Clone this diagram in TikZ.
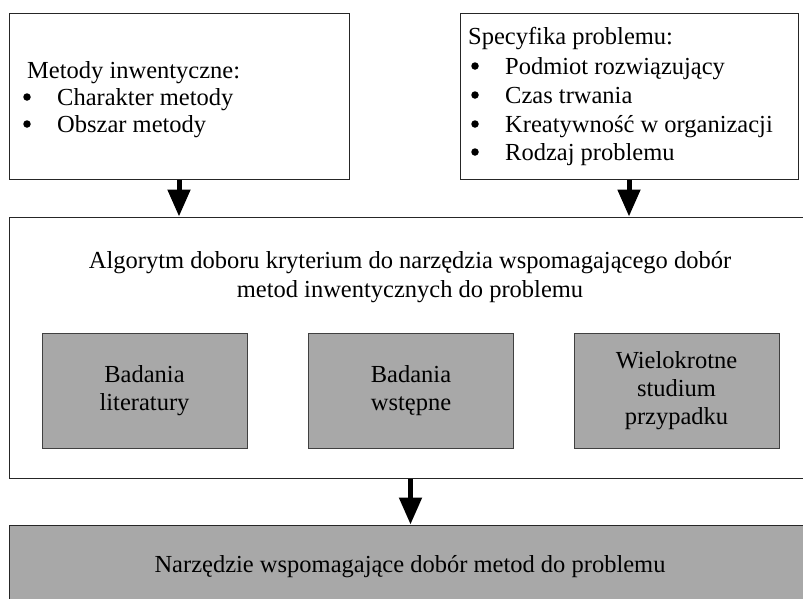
\documentclass[tikz,border=0pt]{standalone}
\usepackage{fontspec}
\setmainfont{Liberation Serif}
\usetikzlibrary{arrows.meta}
\definecolor{boxgray}{RGB}{168,168,168}
\begin{document}
\begin{tikzpicture}[x=1pt,y=-1pt,
  frame/.style={draw=black!85, line width=1pt, fill=white, inner sep=0pt},
  graybox/.style={draw=black!75, line width=1pt, fill=boxgray, minimum width=205pt, minimum height=115pt, align=center, inner sep=0pt, font=\fontsize{24.5}{28}\selectfont},
  txt/.style={font=\fontsize{24.5}{28}\selectfont, inner sep=0pt},
  dot/.style={circle, fill=black, inner sep=0pt, minimum size=7.5pt},
  flow/.style={line width=5pt, -{Triangle[width=22pt,length=27pt]}},
]
\useasboundingbox (0,0) rectangle (803,598);
\clip (0,0) rectangle (803,598);

% top boxes
\node[frame, minimum width=340pt, minimum height=166pt] (lbox) at (179,96) {};
\node[frame, minimum width=338pt, minimum height=166pt] (rbox) at (629,96) {};

% main box
\node[frame, minimum width=803pt, minimum height=261pt] (main) at (410.5,347.5) {};

% bottom box
\node[frame, fill=boxgray, minimum width=803pt, minimum height=95pt] (bottom) at (410.5,572.5) {};

% left box text
\node[txt, anchor=base west] (l0) at (27,78) {Metody inwentyczne:};
\node[dot] (lb1) at (27,97) {};
\node[txt, anchor=base west] (l1) at (57,105) {Charakter metody};
\node[dot] (lb2) at (27,124) {};
\node[txt, anchor=base west] (l2) at (57,132) {Obszar metody};

% right box text
\node[txt, anchor=base west] (r0) at (468,44) {Specyfika problemu:};
\node[dot] (rb1) at (475,66) {};
\node[txt, anchor=base west] (r1) at (505,74) {Podmiot rozwiązujący};
\node[dot] (rb2) at (475,95) {};
\node[txt, anchor=base west] (r2) at (505,103) {Czas trwania};
\node[dot] (rb3) at (475,124) {};
\node[txt, anchor=base west] (r3) at (505,132) {Kreatywność w organizacji};
\node[dot] (rb4) at (475,152) {};
\node[txt, anchor=base west] (r4) at (505,160) {Rodzaj problemu};

% main box title
\node[txt, anchor=base] (t1) at (410,268) {Algorytm doboru kryterium do narzędzia wspomagającego dobór};
\node[txt, anchor=base] (t2) at (410,297) {metod inwentycznych do problemu};

% gray boxes
\node[graybox] (g1) at (144.5,390.5) {Badania\\literatury};
\node[graybox] (g2) at (411,390.5) {Badania\\wstępne};
\node[graybox] (g3) at (676.5,390.5) {Wielokrotne\\studium\\przypadku};

% bottom text
\node[txt, anchor=base] (btext) at (410,572) {Narzędzie wspomagające dobór metod do problemu};

% arrows
\draw[flow] (lbox.south) -- (lbox.south |- main.north);
\draw[flow] (rbox.south) -- (rbox.south |- main.north);
\draw[flow] (main.south) -- (bottom.north);
\end{tikzpicture}
\end{document}
